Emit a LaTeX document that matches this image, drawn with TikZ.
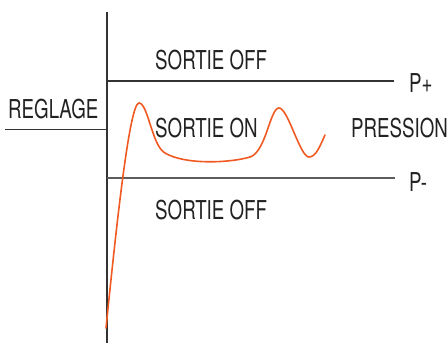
\documentclass[tikz,border=0pt]{standalone}
\usepackage{fontspec}
\newfontfamily\labfont[FakeStretch=0.72]{TeX Gyre Heros}
\definecolor{curvecol}{HTML}{F05A22}
\definecolor{axiscol}{HTML}{333333}
\definecolor{txtcol}{HTML}{222222}
\begin{document}
\begin{tikzpicture}[x=1pt,y=-1pt,
  lab/.style={inner sep=0pt,text=txtcol,font=\labfont\fontsize{26}{27}\selectfont},
  axis/.style={draw=axiscol,line width=1.3pt},
  curve/.style={draw=curvecol,line width=1.6pt,line cap=round}]
\useasboundingbox (0,0) rectangle (447,343);
% coordinates
\coordinate (vtop) at (107,12);
\coordinate (vbot) at (107,343);
\coordinate (pplusL) at (107,81);
\coordinate (pplusR) at (394,81);
\coordinate (pminL) at (107,178);
\coordinate (pminR) at (395,178);
\coordinate (regL) at (5,129.5);
\coordinate (regR) at (107,129.5);
% lines
\draw[axis] (vtop) -- (vbot);
\draw[axis] (pplusL) -- (pplusR);
\draw[axis,draw=axiscol!80] (pminL) -- (pminR);
\draw[axis] (regL) -- (regR);
% labels
\node[lab,anchor=base west] (offtop) at (155,69) {SORTIE OFF};
\node[lab,anchor=base west] (on) at (155,137.5) {SORTIE ON};
\node[lab,anchor=base west] (offbot) at (155,219) {SORTIE OFF};
\node[lab,anchor=base west] (reg) at (8,118) {REGLAGE};
\node[lab,anchor=base west] (pplus) at (409,92) {P+};
\node[lab,anchor=base west] (press) at (351,137) {PRESSION};
\node[lab,anchor=base west] (pmin) at (409,191) {P-};
% pressure curve
\coordinate (c0) at (106,328);
\coordinate (c1) at (139,103);
\coordinate (c2) at (165,153);
\coordinate (c3) at (250,157);
\coordinate (c4) at (279,108);
\coordinate (c5) at (309,157);
\coordinate (c6) at (325,135);
\draw[curve] (c0) .. controls (115,240) and (129,103) .. (c1)
  .. controls (148,103) and (152,146) .. (c2)
  .. controls (185,165) and (230,163) .. (c3)
  .. controls (266,152) and (270,108) .. (c4)
  .. controls (288,108) and (300,157) .. (c5)
  .. controls (316,157) and (320,146) .. (c6);
\end{tikzpicture}
\end{document}
